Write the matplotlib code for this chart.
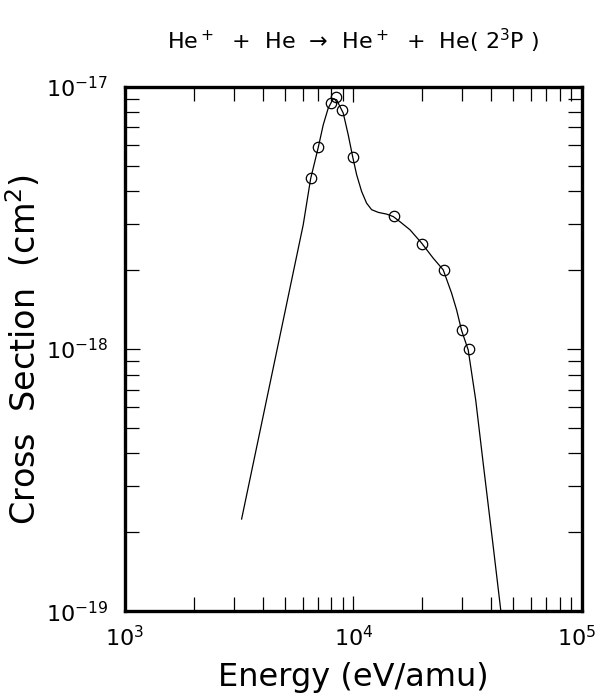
import numpy as np
import matplotlib
matplotlib.use("Agg")
import matplotlib.pyplot as plt
import matplotlib.transforms as mtransforms
from matplotlib.ticker import LogLocator, FixedLocator, NullFormatter

# fitted curve
curve_e = [3240, 6030, 6497, 7015, 7377, 7758, 8158, 8443, 8727, 9023, 9489,
           9920, 10330, 10860, 11420, 12010, 12840, 13970, 14940, 15980, 17680,
           19890, 22360, 24720, 26900, 28290, 29760, 31800, 34300, 36990,
           40920, 44220]
curve_s = [2.25e-19, 2.98e-18, 4.46e-18, 5.87e-18, 7.16e-18, 8.29e-18, 9.0e-18,
           8.92e-18, 8.41e-18, 7.94e-18, 6.56e-18, 5.42e-18, 4.62e-18, 3.99e-18,
           3.60e-18, 3.40e-18, 3.32e-18, 3.27e-18, 3.20e-18, 3.06e-18, 2.85e-18,
           2.535e-18, 2.22e-18, 2.005e-18, 1.634e-18, 1.411e-18, 1.177e-18,
           9.93e-19, 6.4e-19, 3.67e-19, 1.77e-19, 1.0e-19]

# measured points (open circles)
data_e = [6500, 7000, 8000, 8400, 8900, 10000, 15000, 20000, 25000, 30000, 32000]
data_s = [4.47e-18, 5.87e-18, 8.67e-18, 9.14e-18, 8.15e-18, 5.41e-18,
          3.22e-18, 2.52e-18, 2.0e-18, 1.18e-18, 1.0e-18]

xticks = [1e3, 1e4, 1e5]
xlabels = ['$10^{3}$', '$10^{4}$', '$10^{5}$']
yticks = [1e-19, 1e-18, 1e-17]
ylabels = ['$10^{-19}$', '$10^{-18}$', '$10^{-17}$']

fig = plt.figure(figsize=(5.98, 6.94), dpi=100)
ax = fig.add_axes([0.209, 0.119, 0.764, 0.756])

ax.plot(curve_e, curve_s, color='black', lw=0.9)
ax.plot(data_e, data_s, 'o', mfc='none', mec='black', ms=7.5, mew=0.9)

ax.set_xscale('log')
ax.set_yscale('log')
ax.set_xlim(1e3, 1e5)
ax.set_ylim(1e-19, 1e-17)

ax.xaxis.set_major_locator(FixedLocator(xticks))
ax.yaxis.set_major_locator(FixedLocator(yticks))
ax.set_xticklabels(xlabels)
ax.set_yticklabels(ylabels)
ax.xaxis.set_minor_locator(LogLocator(base=10, subs=np.arange(2, 10)))
ax.yaxis.set_minor_locator(LogLocator(base=10, subs=np.arange(2, 10)))
ax.xaxis.set_minor_formatter(NullFormatter())
ax.yaxis.set_minor_formatter(NullFormatter())

ax.tick_params(which='both', direction='in', top=True, right=True, width=0.9,
               labelsize=16)
ax.tick_params(which='major', length=11)
ax.tick_params(which='minor', length=10)
ax.tick_params(axis='x', pad=10)
ax.tick_params(axis='y', pad=12)
for sp in ax.spines.values():
    sp.set_linewidth(2.4)

# last x label sits at the figure edge, pull it in a little
lab = ax.get_xticklabels()[-1]
lab.set_transform(lab.get_transform() + mtransforms.ScaledTranslation(-5/100, 0, fig.dpi_scale_trans))

ax.set_xlabel('Energy (eV/amu)', fontsize=23, labelpad=8)
# y label placed by hand so it is not cut at the left edge
fig.text(0.040, 0.497, 'Cross  Section  (cm$^2$)', fontsize=24, rotation=90,
         ha='center', va='center')
ax.set_title('He$^+$  +  He  \u2192  He$^+$  +  He( 2$^3$P )', fontsize=16, pad=27)

fig.savefig('out.png', dpi=100)
